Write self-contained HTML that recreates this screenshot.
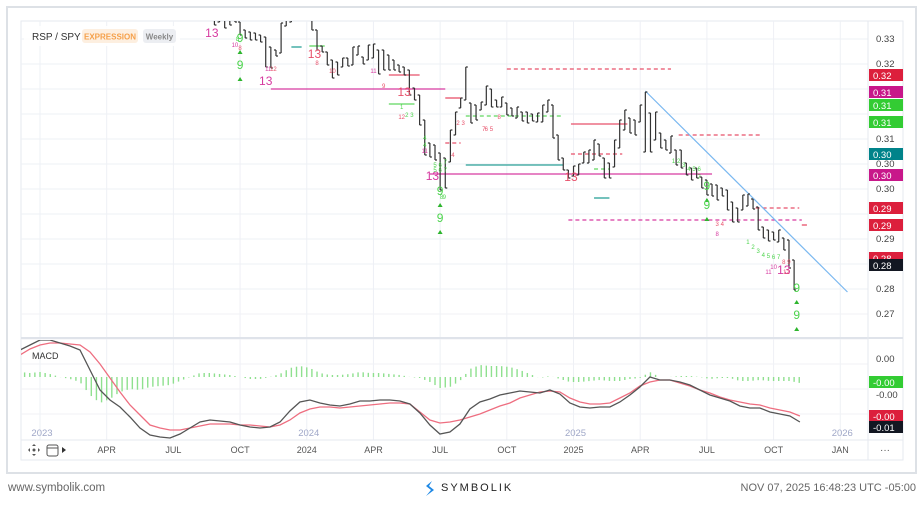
<!DOCTYPE html>
<html><head><meta charset="utf-8">
<style>
html,body{margin:0;padding:0;background:#fff;}
body{width:924px;height:501px;overflow:hidden;font-family:"Liberation Sans",sans-serif;}
svg text{font-family:"Liberation Sans",sans-serif;}
</style></head>
<body>
<svg id="chart" width="924" height="501" viewBox="0 0 924 501" xmlns="http://www.w3.org/2000/svg">
  <rect x="7" y="7" width="909" height="466" fill="#fff" stroke="#dde1e6" stroke-width="2"/>
  <rect x="21" y="21" width="882" height="439" fill="#fff" stroke="#e6e9ef" stroke-width="1"/>
  <g id="grid"></g>
  <line x1="21" y1="338" x2="903" y2="338" stroke="#dfe3ea" stroke-width="2"/>
  <line x1="868" y1="21" x2="868" y2="460" stroke="#e6e9ef"/>
  <line x1="21" y1="440" x2="903" y2="440" stroke="#e6e9ef"/>
  <defs>
    <clipPath id="pclip"><rect x="21" y="21" width="847" height="316"/></clipPath>
    <clipPath id="mclip"><rect x="21" y="340" width="847" height="100"/></clipPath>
  </defs>
  <g id="levels" clip-path="url(#pclip)"></g>
  <g id="bars" clip-path="url(#pclip)"></g>
  <g id="ann" clip-path="url(#pclip)"></g>
  <g id="macd" clip-path="url(#mclip)"></g>
  <g id="axes"></g>

  <rect x="24" y="26" width="156" height="20" fill="#fff" opacity="0.9"/>
  <text x="32" y="40" font-size="10" fill="#333">RSP / SPY</text>
  <rect x="82" y="29" width="56" height="14" rx="3" fill="#fdefe0"/>
  <text x="110" y="39.5" font-size="8" font-weight="bold" fill="#f5a04a" text-anchor="middle">EXPRESSION</text>
  <rect x="143" y="29" width="33" height="14" rx="3" fill="#eceef2"/>
  <text x="159.5" y="39.5" font-size="8" font-weight="bold" fill="#888" text-anchor="middle">Weekly</text>
  <text x="32" y="359" font-size="9" fill="#333">MACD</text>

  <g>
    <circle cx="34" cy="450" r="1.5" fill="#555"/>
    <path d="M34 444 l-2 2 h4z M34 456 l-2 -2 h4z M28 450 l2 -2 v4z M40 450 l-2 -2 v4z" fill="#555"/>
  </g>
  <g>
    <rect x="47" y="445" width="11" height="11" rx="2" fill="none" stroke="#555"/>
    <line x1="47" y1="448" x2="58" y2="448" stroke="#555"/>
  </g>
  <path d="M62 447 l4 3 l-4 3z" fill="#333"/>
  <text x="885" y="453" font-size="10" fill="#555" text-anchor="middle">···</text>

  <text x="8" y="491" font-size="11.5" fill="#666">www.symbolik.com</text>
  <g>
    <path d="M432 481 l-6 5 l5 4 l-5 6 l8 -6 l-5 -4 z" fill="#1e88e5"/>
    <text x="441" y="491" font-size="11" fill="#222" letter-spacing="2">SYMBOLIK</text>
  </g>
  <text x="916" y="491" font-size="11" fill="#666" text-anchor="end">NOV 07, 2025 16:48:23 UTC -05:00</text>
</svg>
<script>
// ---- time axis ----
const quarterLabels = ["2023","APR","JUL","OCT","2024","APR","JUL","OCT","2025","APR","JUL","OCT","JAN"];
const quarterWeeks = [0,13,26,39,52,65,78,91,104,117,130,143,156];
const yearLabels = ["2023","2024","2025","2026"];
const yearWeeks = [0,52,104,156];
// ---- price axis ----
const priceTickValues = [0.330,0.325,0.320,0.315,0.310,0.305,0.300,0.295,0.290,0.285,0.280,0.275];
const priceTickLabels = ["0.33","0.32","","","0.31","0.30","0.30","","0.29","","0.28","0.27"];
// ---- weekly bars (first bar = week 34 of series starting Jan 2 2023) ----
const firstWeek = 34;
const highs = [0.3362,0.3368,0.3358,0.3354,0.3350,0.3334,0.3318,0.3314,0.3312,0.3308,0.3304,0.3284,0.3278,0.3332,0.3338,0.3348,0.3358,0.3362,0.3358,0.3342,0.3318,0.3286,0.3274,0.3258,0.3254,0.3262,0.3262,0.3284,0.3286,0.3264,0.3288,0.3290,0.3278,0.3278,0.3268,0.3258,0.3248,0.3244,0.3238,0.3202,0.3188,0.3138,0.3092,0.3088,0.3072,0.3062,0.3118,0.3154,0.3182,0.3244,0.3172,0.3168,0.3174,0.3206,0.3200,0.3178,0.3184,0.3172,0.3162,0.3164,0.3154,0.3154,0.3150,0.3152,0.3168,0.3178,0.3168,0.3108,0.3062,0.3038,0.3046,0.3050,0.3074,0.3078,0.3098,0.3090,0.3062,0.3052,0.3098,0.3138,0.3158,0.3142,0.3138,0.3168,0.3194,0.3152,0.3154,0.3112,0.3098,0.3106,0.3078,0.3078,0.3052,0.3042,0.3042,0.3024,0.3018,0.3010,0.3008,0.3002,0.2998,0.2974,0.2962,0.2988,0.2990,0.2980,0.2964,0.2924,0.2918,0.2914,0.2918,0.2902,0.2898,0.2858];
const lows = [0.3328,0.3334,0.3322,0.3328,0.3334,0.3308,0.3302,0.3298,0.3298,0.3294,0.3244,0.3242,0.3266,0.3272,0.3326,0.3334,0.3338,0.3342,0.3338,0.3318,0.3278,0.3274,0.3248,0.3222,0.3228,0.3244,0.3246,0.3248,0.3268,0.3250,0.3258,0.3262,0.3230,0.3238,0.3238,0.3238,0.3234,0.3228,0.3188,0.3178,0.3128,0.3068,0.3064,0.3058,0.2998,0.3002,0.3054,0.3108,0.3162,0.3178,0.3132,0.3138,0.3158,0.3168,0.3164,0.3164,0.3164,0.3148,0.3146,0.3142,0.3136,0.3132,0.3136,0.3134,0.3134,0.3154,0.3102,0.3058,0.3038,0.3022,0.3026,0.3028,0.3052,0.3052,0.3058,0.3066,0.3022,0.3022,0.3044,0.3082,0.3118,0.3112,0.3108,0.3134,0.3074,0.3074,0.3098,0.3082,0.3078,0.3072,0.3048,0.3042,0.3028,0.3018,0.3022,0.3002,0.2988,0.2986,0.2978,0.2986,0.2958,0.2934,0.2934,0.2958,0.2966,0.2960,0.2918,0.2902,0.2896,0.2898,0.2894,0.2878,0.2842,0.2798];
// ---- MACD (x10^4), sampled every ~1.95 weeks starting week -3.9 ----
const macdStart = -3.9, macdStep = 1.949;
const macdLine = [27,32,37,37,34,31,27,7,-13,-23,-30,-40,-51,-58,-60,-61,-57,-51,-45,-43,-44,-45,-48,-50,-51,-50,-45,-34,-25,-23,-26,-28,-29,-27,-24,-24,-23,-23,-24,-27,-36,-48,-57,-55,-47,-32,-25,-22,-18,-16,-14,-15,-16,-13,-17,-26,-30,-31,-30,-30,-25,-18,-10,0,-3,-3,-5,-8,-13,-18,-21,-24,-29,-31,-31,-35,-37,-39,-45];
const signalLine = [22,28,32,34,34,33,32,25,13,-1,-15,-28,-38,-48,-51,-53,-53,-51,-49,-47,-47,-47,-48,-48,-49,-50,-48,-43,-36,-32,-30,-30,-31,-30,-29,-28,-27,-26,-26,-27,-35,-43,-46,-45,-43,-40,-37,-33,-29,-26,-21,-18,-15,-14,-15,-21,-25,-27,-27,-26,-21,-16,-9,-5,-3,-3,-6,-9,-13,-16,-20,-23,-25,-27,-28,-31,-33,-35,-39];
const macdTickLabels = ["0.00","-0.00","-0.00"];
const macdTickValues = [18,-18,-45];
// ---- TD levels ----
const lvStart = [45,91,68,68,52.5,49,79,79,83,83,76,103.5,103.5,108,108,124.5,139.5,103,148.5];
const lvEnd   = [79,123,74,73,55.5,51,82,82,102,102,131,114.5,113.5,111,111,140.5,148,148.5,149.5];
const lvPrice = [0.3200,0.3240,0.3228,0.3170,0.3286,0.3284,0.3182,0.3092,0.3146,0.3048,0.3030,0.3130,0.3070,0.3040,0.2982,0.3108,0.2962,0.2938,0.2928];
const lvColor = ["#d63aa0","#e8506a","#e8506a","#5fd65f","#5fd65f","#2aa198","#e8506a","#e8506a","#5fd65f","#2aa198","#d63aa0","#e8506a","#e8506a","#5fd65f","#2aa198","#e8506a","#e8506a","#d63aa0","#e8506a"];
const lvDash  = [0,1,0,0,0,0,0,1,1,0,0,0,1,1,0,1,1,1,0];
// ---- TD count annotations ----
const tdText  = ["13","9","9","13","13","13","13","9","9","13","9","9","13","9","9","8","8","10","11","12","12","1","2","3","4","4","11","5","6","7","5","6","7","8","9","2","3","4","5","6","7","8","1","2","3","4","5","6","7","3","4","8","1","2","3","4","5","6","7","8","9","10","11","12","10","11","8","9"];
const tdWeek  = [33.5,39,39,44,53.5,71,76.5,78,78,103.5,130,130,145,147.5,147.5,38.5,39,38,44.5,45.5,70.5,70.5,71.5,72.5,75,75,75,77,78,79,77,78,79,78.3,78.8,81.5,82.5,80.5,88,87,86.5,89.5,123.5,124.5,125.5,126.5,127.5,128.5,128.5,132,133,132,138,139,140,141,142,143,144,145,146,143,142,145.5,57,65,54,67];
const tdPrice = [0.3304,0.3294,0.3240,0.3208,0.3262,0.3186,0.3018,0.2988,0.2934,0.3016,0.2998,0.2960,0.2830,0.2794,0.2740,0.3296,0.3278,0.3284,0.3236,0.3236,0.3140,0.3160,0.3144,0.3144,0.3098,0.3084,0.3072,0.3044,0.3044,0.3050,0.3034,0.3034,0.3034,0.2980,0.2980,0.3128,0.3128,0.3064,0.3116,0.3116,0.3116,0.3140,0.3052,0.3052,0.3044,0.3036,0.3036,0.3036,0.3020,0.2926,0.2926,0.2906,0.2890,0.2880,0.2872,0.2864,0.2862,0.2860,0.2860,0.2850,0.2850,0.2840,0.2830,0.2830,0.3232,0.3232,0.3248,0.3202];
const tdColor = ["#d63aa0","#4cd44c","#4cd44c","#d63aa0","#e8506a","#e8506a","#d63aa0","#4cd44c","#4cd44c","#e8506a","#4cd44c","#4cd44c","#d63aa0","#4cd44c","#4cd44c","#4cd44c","#e8506a","#d63aa0","#d63aa0","#e8506a","#e8506a","#4cd44c","#4cd44c","#4cd44c","#4cd44c","#4cd44c","#d63aa0","#4cd44c","#4cd44c","#4cd44c","#4cd44c","#4cd44c","#4cd44c","#4cd44c","#4cd44c","#e8506a","#e8506a","#e8506a","#e8506a","#e8506a","#e8506a","#e8506a","#4cd44c","#4cd44c","#4cd44c","#4cd44c","#4cd44c","#4cd44c","#4cd44c","#e8506a","#e8506a","#d63aa0","#4cd44c","#4cd44c","#4cd44c","#4cd44c","#4cd44c","#4cd44c","#4cd44c","#e8506a","#e8506a","#d63aa0","#d63aa0","#e8506a","#e8506a","#d63aa0","#e8506a","#e8506a"];
const tdSize  = [12,12,12,12,12,12,12,12,12,12,12,12,12,12,12,6,6,6,6,6,6,6,6,6,6,6,6,6,6,6,6,6,6,6,6,6,6,6,6,6,6,6,6,6,6,6,6,6,6,6,6,6,6,6,6,6,6,6,6,6,6,6,6,6,6,6,6,6];
// ---- axis badges ----
const badgeText  = ["0.32","0.31","0.31","0.31","0.30","0.30","0.29","0.29","0.28","0.28"];
const badgeTop   = [69,86,99,116,148,169,202,219,252,259];
const badgeColor = ["#dc1f3c","#c8178a","#33cc33","#33cc33","#00838a","#c8178a","#dc1f3c","#dc1f3c","#dc1f3c","#131722"];
const macdBadgeText=["-0.00","-0.00","-0.01"];
const macdBadgeTop=[376,410,421];
const macdBadgeColor=["#33cc33","#dc1f3c","#131722"];
const trendStart=[118,0.3196], trendEnd=[157.4,0.2794];

const NS="http://www.w3.org/2000/svg";
const xS = w => 40 + w*5.13;
const yS = p => 39 + (0.33 - p)*5000;
const mY = v => 377 - v;
function el(tag, attrs, parent){const e=document.createElementNS(NS,tag);for(const k in attrs)e.setAttribute(k,attrs[k]);parent.appendChild(e);return e;}

const grid=document.getElementById('grid');
for(let i=0;i<quarterWeeks.length;i++){
  const x=xS(quarterWeeks[i]);
  const g=el('line',{x1:x,y1:21,x2:x,y2:440,stroke:'#eef0f5'},grid);
  
  
}
for(let i=0;i<priceTickValues.length;i++){
  const y=yS(priceTickValues[i]);
  const g=el('line',{x1:21,y1:y,x2:868,y2:y,stroke:'#eef0f5'},grid);
  
  
}
for(let v=-50;v<=50;v+=25){
  const g=el('line',{x1:21,y1:mY(v)-13,x2:868,y2:mY(v)-13,stroke:'#f0f2f6'},grid);
  
  
}
const axes=document.getElementById('axes');
for(let i=1;i<quarterLabels.length;i++){
  const t=el('text',{x:xS(quarterWeeks[i]),y:453,'font-size':9,fill:'#555','text-anchor':'middle'},axes);
  t.textContent=quarterLabels[i];
  
  
}
for(let i=0;i<yearLabels.length;i++){
  const t=el('text',{x:xS(yearWeeks[i])+2,y:436,'font-size':9.5,fill:'#a0a8c8','text-anchor':'middle'},axes);
  t.textContent=yearLabels[i];
  
  
}
for(let i=0;i<priceTickValues.length;i++){
  if(!priceTickLabels[i])continue;
  const t=el('text',{x:876,y:yS(priceTickValues[i])+3,'font-size':9.5,fill:'#444'},axes);
  t.textContent=priceTickLabels[i];
  
  
}
for(let i=0;i<macdTickValues.length;i++){
  const t=el('text',{x:876,y:mY(macdTickValues[i])+3,'font-size':9.5,fill:'#444'},axes);
  t.textContent=macdTickLabels[i];
  
  
}
function badge(txt,top,col,name){
  const r=el('rect',{x:869,y:top,width:34,height:12,fill:col},axes);
  
  
  const t=el('text',{x:873,y:top+10,'font-size':9.5,fill:'#fff'},axes);
  t.textContent=txt;
  
  
}
for(let i=0;i<badgeText.length;i++) badge(badgeText[i],badgeTop[i],badgeColor[i],'price-badge');
for(let i=0;i<macdBadgeText.length;i++) badge(macdBadgeText[i],macdBadgeTop[i],macdBadgeColor[i],'macd-badge');

const lv=document.getElementById('levels');
for(let i=0;i<lvStart.length;i++){
  const y=yS(lvPrice[i]);
  const l=el('line',{x1:xS(lvStart[i]),y1:y,x2:xS(lvEnd[i]),y2:y,stroke:lvColor[i],'stroke-width':1.3},lv);
  if(lvDash[i]) l.setAttribute('stroke-dasharray','4,3');
  
  
}
const tl=el('line',{x1:xS(trendStart[0]),y1:yS(trendStart[1]),x2:xS(trendEnd[0]),y2:yS(trendEnd[1]),stroke:'#7ab8f0','stroke-width':1.2},lv);



const bars=document.getElementById('bars');
for(let i=0;i<highs.length;i++){
  const x=xS(firstWeek+i), yh=yS(highs[i]), yl=yS(lows[i]);
  const up = i>0 && highs[i]>highs[i-1];
  const yo = up?yl:yh, yc = up?yh:yl;
  const p=el('path',{d:`M${x} ${yh}V${yl}M${x-2} ${yo}H${x}M${x} ${yc}H${x+2}`,stroke:'#333','stroke-width':1.2,fill:'none'},bars);
  
  
}
const ann=document.getElementById('ann');
for(let i=0;i<tdText.length;i++){
  const t=el('text',{x:xS(tdWeek[i]),y:yS(tdPrice[i]),'font-size':tdSize[i],fill:tdColor[i],'text-anchor':'middle'},ann);
  t.textContent=tdText[i];
  
  
  if(tdSize[i]>10 && tdText[i]==='9'){
    const tri=el('path',{d:`M${xS(tdWeek[i])-2.5} ${yS(tdPrice[i])+12}l2.5 -4l2.5 4z`,fill:'#2db52d'},ann);
    
    
  }
}
const mg=document.getElementById('macd');
function interp(arr,w){const f=(w-macdStart)/macdStep;const i=Math.floor(f);if(i<0)return arr[0];if(i>=arr.length-1)return arr[arr.length-1];const t=f-i;return arr[i]*(1-t)+arr[i+1]*t;}
const lastW=macdStart+macdStep*(macdLine.length-1);
for(let w=-3;w<=lastW;w++){
  const h=interp(macdLine,w)-interp(signalLine,w);
  const x=xS(w);
  const b=el('line',{x1:x,y1:377,x2:x,y2:377-h,stroke:'#8fe08f','stroke-width':1.4},mg);
  
  
}
function path(arr){return arr.map((v,i)=>(i?'L':'M')+xS(macdStart+i*macdStep).toFixed(1)+' '+mY(v)).join('');}
const sig=el('path',{d:path(signalLine),stroke:'#ee6e80',fill:'none','stroke-width':1.3},mg);


const ml=el('path',{d:path(macdLine),stroke:'#555','stroke-width':1.3,fill:'none'},mg);


</script>
</body></html>
